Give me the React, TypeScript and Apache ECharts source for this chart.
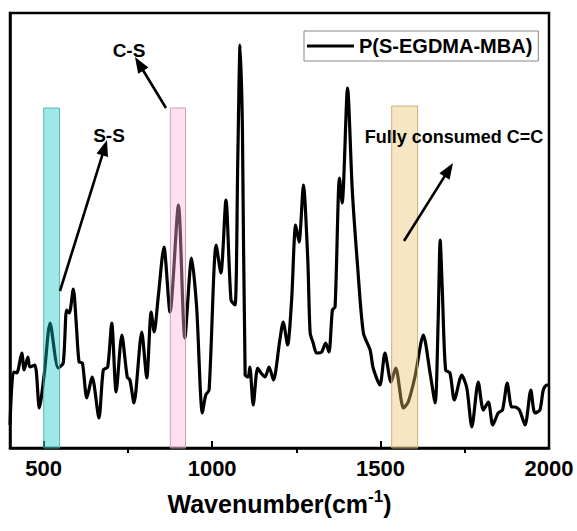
import React, { useEffect, useRef } from "react";
import * as echarts from "echarts";

const wavenumbers = [400,410,420,435,442,453,459,474,487,502,519,543,558,568,576,588,596,605,615,628,644,664,677,690,702,715,732,748,756,768,791,806,819,828,840,857,875,900,919,939,954,971,981,991,1012,1026,1041,1056,1068,1076,1083,1090,1098,1107,1112,1122,1135,1145,1157,1169,1182,1201,1211,1224,1236,1248,1258,1271,1284,1291,1300,1310,1325,1337,1347,1357,1365,1378,1386,1402,1416,1432,1449,1469,1478,1498,1513,1531,1545,1568,1582,1602,1627,1647,1662,1671,1677,1683,1693,1706,1719,1741,1756,1771,1790,1805,1820,1833,1849,1862,1876,1889,1899,1912,1929,1946,1958,1973,1983,1993,2000];
const intensity = [23,76,75,95,78,91,81,83,40,75,125,80,85,138,135,159,128,86,85,50,71,30,78,81,125,56,113,71,68,45,116,70,136,116,151,201,136,243,110,190,141,35,53,58,203,175,248,148,143,285,403,318,73,71,81,43,80,75,71,81,68,108,126,103,148,223,206,263,188,115,105,95,96,105,96,138,141,270,245,360,258,181,115,98,80,63,95,66,80,40,46,71,113,75,45,128,208,161,78,75,48,73,60,21,66,38,46,23,35,38,65,41,41,38,23,58,35,38,58,63,63];

const seriesName = "P(S-EGDMA-MBA)";
const majorTicks = [500, 1000, 1500, 2000];
const minorTicks = [750, 1250, 1750];

// highlighted bands
const bands = [
  { from: 500, to: 547, top: 340, fill: "rgba(12,197,192,0.4)", border: "rgba(60,170,170,0.8)" },
  { from: 876, to: 921, top: 340, fill: "rgba(255,172,217,0.4)", border: "rgba(200,150,180,0.9)" },
  { from: 1533, to: 1610, top: 342, fill: "rgba(236,192,107,0.4)", border: "rgba(200,170,110,0.9)" },
];

const labels = [
  { text: "C-S", x: 129, y: 50, size: 19 },
  { text: "S-S", x: 109, y: 135, size: 19 },
  { text: "Fully consumed C=C", x: 454, y: 137, size: 18 },
];
const arrows = [
  { x1: 166, y1: 108, x2: 135, y2: 57 },
  { x1: 60, y1: 291, x2: 107, y2: 140 },
  { x1: 404, y1: 241, x2: 453, y2: 163 },
];

const FONT = "'Liberation Sans', Arial, Helvetica, sans-serif";

function arrowGraphic(a: { x1: number; y1: number; x2: number; y2: number }) {
  const dx = a.x2 - a.x1;
  const dy = a.y2 - a.y1;
  const len = Math.sqrt(dx * dx + dy * dy);
  const ux = dx / len;
  const uy = dy / len;
  const headLen = 16;
  const headHalf = 6;
  const bx = a.x2 - ux * headLen;
  const by = a.y2 - uy * headLen;
  return [
    {
      type: "line",
      shape: { x1: a.x1, y1: a.y1, x2: bx + ux * 2, y2: by + uy * 2 },
      style: { stroke: "#000", lineWidth: 2.6 },
      z: 100,
    },
    {
      type: "polygon",
      shape: {
        points: [
          [a.x2, a.y2],
          [bx - uy * headHalf, by + ux * headHalf],
          [bx + uy * headHalf, by - ux * headHalf],
        ],
      },
      style: { fill: "#000" },
      z: 100,
    },
  ];
}

export default function App() {
  const ref = useRef<HTMLDivElement>(null);
  useEffect(() => {
    if (!ref.current) return;
    const chart = echarts.init(ref.current, undefined, { renderer: "svg" });
    const data = wavenumbers.map((w, i) => [w, intensity[i]]);
    const graphics: any[] = [];
    labels.forEach((l) =>
      graphics.push({
        type: "text",
        x: l.x,
        y: l.y,
        z: 100,
        style: {
          text: l.text,
          fill: "#000",
          font: `bold ${l.size}px ${FONT}`,
          textAlign: "center",
          textVerticalAlign: "middle",
        },
      })
    );
    arrows.forEach((a) => graphics.push(...arrowGraphic(a)));

    chart.setOption({
      animation: false,
      backgroundColor: "#fff",
      grid: {
        left: 10,
        right: 28,
        top: 13,
        bottom: 83,
        show: true,
        borderColor: "#000",
        borderWidth: 2.5,
        backgroundColor: "transparent",
        outerBoundsMode: "none",
        containLabel: false,
      },
      legend: {
        left: 304,
        top: 31,
        padding: [5, 6, 5, 3],
        itemWidth: 47,
        itemHeight: 3,
        icon: "rect",
        borderColor: "#888",
        borderWidth: 1,
        borderRadius: 0,
        data: [{ name: seriesName, icon: "rect" }],
        itemStyle: { color: "#000", borderWidth: 0 },
        textStyle: { fontSize: 20, fontWeight: "bold", color: "#000", fontFamily: FONT },
      },
      xAxis: [
        {
          type: "value",
          min: 400,
          max: 2000,
          position: "bottom",
          splitLine: { show: false },
          axisLine: { show: true, onZero: false, lineStyle: { color: "#000", width: 2.5 } },
          axisTick: { show: true, inside: true, length: 7, customValues: majorTicks, lineStyle: { color: "#000", width: 2 } },
          axisLabel: {
            show: true,
            customValues: majorTicks,
            formatter: (v: number) => String(v),
            margin: 9,
            fontSize: 22,
            fontWeight: "bold",
            color: "#000",
            fontFamily: FONT,
          },
          name: "{a|Wavenumber(cm}{b|-1}{a|)}",
          nameLocation: "middle",
          nameGap: 41,
          nameTextStyle: {
            rich: {
              a: { fontSize: 25, fontWeight: "bold", color: "#000", fontFamily: FONT, lineHeight: 30 },
              b: { fontSize: 17, fontWeight: "bold", color: "#000", fontFamily: FONT, padding: [0, 0, 16, 0], lineHeight: 30 },
            },
          },
        },
        {
          type: "value",
          min: 400,
          max: 2000,
          position: "bottom",
          gridIndex: 0,
          splitLine: { show: false },
          axisLine: { show: false },
          axisTick: { show: true, inside: false, length: 5, customValues: minorTicks, lineStyle: { color: "#000", width: 2 } },
          axisLabel: { show: false },
        },
      ],
      yAxis: {
        type: "value",
        min: 0,
        max: 435,
        splitLine: { show: false },
        axisLine: { show: true, lineStyle: { color: "#000", width: 2.5 } },
        axisTick: { show: false },
        axisLabel: { show: false },
      },
      series: [
        {
          name: seriesName,
          type: "line",
          data,
          xAxisIndex: 0,
          showSymbol: false,
          symbol: "none",
          smooth: 0.25,
          z: 2,
          lineStyle: { color: "#000", width: 3.2 },
          itemStyle: { color: "#000" },
        },
        {
          name: "bands",
          type: "line",
          data: [],
          xAxisIndex: 0,
          z: 5,
          silent: true,
          markArea: {
            silent: true,
            z: 5,
            data: bands.map((b) => [
              { xAxis: b.from, yAxis: 0, itemStyle: { color: b.fill, borderColor: b.border, borderWidth: 1 } },
              { xAxis: b.to, yAxis: b.top },
            ]),
          },
        },
      ],
      graphic: graphics,
    });
    return () => chart.dispose();
  }, []);
  return (
    <div
      ref={ref}
      style={{ position: "fixed", left: 0, top: 0, width: 577, height: 531 }}
    />
  );
}
